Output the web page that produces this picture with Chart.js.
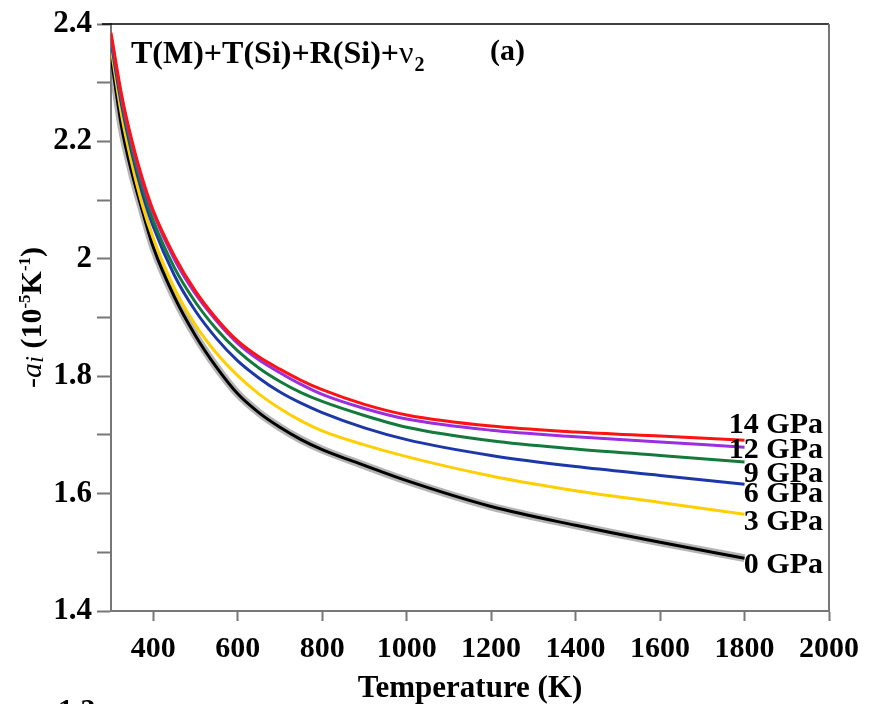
<!DOCTYPE html>
<html>
<head>
<meta charset="utf-8">
<script src="https://cdn.jsdelivr.net/npm/chart.js@4.4.1/dist/chart.umd.min.js"></script>
<style>
  html, body { margin: 0; padding: 0; background: #fff; }
  canvas { display: block; }
</style>
</head>
<body>
<canvas id="chart" width="874" height="704"></canvas>
<script>
/* ── Data ── */
const temps  = [300, 325, 350, 375, 400, 450, 500, 550, 600, 650, 700, 750, 800, 900, 1000, 1200, 1400, 1600, 1800];
const gpa14  = [2.385, 2.280, 2.200, 2.135, 2.082, 2.005, 1.945, 1.898, 1.860, 1.833, 1.812, 1.793, 1.777, 1.752, 1.734, 1.715, 1.705, 1.698, 1.691];
const gpa12  = [2.380, 2.275, 2.195, 2.130, 2.078, 1.999, 1.940, 1.894, 1.856, 1.828, 1.806, 1.786, 1.769, 1.745, 1.727, 1.708, 1.697, 1.688, 1.679];
const gpa9   = [2.375, 2.270, 2.185, 2.120, 2.065, 1.985, 1.926, 1.880, 1.843, 1.814, 1.791, 1.772, 1.757, 1.733, 1.713, 1.690, 1.676, 1.665, 1.654];
const gpa6   = [2.370, 2.262, 2.178, 2.110, 2.055, 1.972, 1.911, 1.864, 1.826, 1.797, 1.773, 1.754, 1.738, 1.712, 1.692, 1.665, 1.646, 1.631, 1.616];
const gpa3   = [2.360, 2.245, 2.160, 2.090, 2.035, 1.950, 1.887, 1.839, 1.801, 1.770, 1.745, 1.724, 1.707, 1.683, 1.663, 1.630, 1.605, 1.585, 1.565];
const gpa0   = [2.345, 2.225, 2.145, 2.080, 2.020, 1.935, 1.869, 1.815, 1.770, 1.738, 1.713, 1.692, 1.675, 1.648, 1.622, 1.578, 1.546, 1.517, 1.490];

const xTicks = [400, 600, 800, 1000, 1200, 1400, 1600, 1800, 2000];
const seriesNames  = ["14 GPa", "12 GPa", "9 GPa", "6 GPa", "3 GPa", "0 GPa"];
const seriesValues = [gpa14, gpa12, gpa9, gpa6, gpa3, gpa0];
const seriesColors = ["#ff1212", "#9a2ee0", "#137a3c", "#1c38a8", "#ffcf00", "#000000"];

const SERIF = '"Liberation Serif", "Times New Roman", serif';

function pts(vals) { return temps.map((t, i) => ({ x: t, y: vals[i] })); }

const datasets = seriesValues.map((vals, i) => ({
  label: seriesNames[i],
  data: pts(vals),
  borderColor: seriesColors[i],
  borderWidth: 3,
  pointRadius: 0,
  cubicInterpolationMode: "monotone",
  fill: false
}));
// grey halo under the 0 GPa curve (last dataset = drawn at the bottom)
datasets.push({
  label: "shadow",
  data: pts(gpa0),
  borderColor: "rgba(130,130,130,0.6)",
  borderWidth: 8,
  pointRadius: 0,
  cubicInterpolationMode: "monotone",
  fill: false
});

/* ── Text overlay: titles, labels, frame ── */
const textPlugin = {
  id: "texts",
  afterDatasetsDraw(chart) {
    const ctx = chart.ctx;
    const area = chart.chartArea;
    ctx.save();
    ctx.fillStyle = "#000";

    // frame: top black line, right grey line
    ctx.strokeStyle = "#000";
    ctx.lineWidth = 1.5;
    ctx.beginPath();
    ctx.moveTo(102, area.top);
    ctx.lineTo(area.right, area.top);
    ctx.stroke();
    ctx.strokeStyle = "#777";
    ctx.lineWidth = 2;
    ctx.beginPath();
    ctx.moveTo(area.right, area.top);
    ctx.lineTo(area.right, area.bottom);
    ctx.stroke();

    // series labels at the right
    const labelY = [433, 458, 482, 502, 530, 573];
    ctx.font = "bold 30px " + SERIF;
    ctx.textAlign = "right";
    ctx.textBaseline = "alphabetic";
    seriesNames.forEach((s, i) => ctx.fillText(s, 823, labelY[i]));

    // main title with nu_2
    ctx.textAlign = "left";
    ctx.font = "bold 32px " + SERIF;
    let x = 131;
    const base = 63;
    const t1 = "T(M)+T(Si)+R(Si)+";
    ctx.fillText(t1, x, base);
    x += ctx.measureText(t1).width;
    ctx.font = "32px " + SERIF;
    ctx.fillText("\u03bd", x, base);
    x += ctx.measureText("\u03bd").width;
    ctx.font = "bold 20px " + SERIF;
    ctx.fillText("2", x + 1, base + 8);

    ctx.font = "bold 30px " + SERIF;
    ctx.fillText("(a)", 490, 60);

    // x axis title
    ctx.textAlign = "center";
    ctx.font = "bold 31px " + SERIF;
    ctx.fillText("Temperature (K)", (area.left + area.right) / 2, 697);

    // stray label cut by the bottom edge
    ctx.textAlign = "left";
    ctx.font = "bold 30px " + SERIF;
    ctx.fillText("1.3", 58, 719);

    // y axis title (rotated, mixed styles)
    const parts = [
      { t: "-",    f: "30px " + SERIF, dy: 0 },
      { t: "a",    f: "italic 30px " + SERIF, dy: 0 },
      { t: "i",    f: "italic 25px " + SERIF, dy: 2 },
      { t: " (10", f: "bold 30px " + SERIF, dy: 0 },
      { t: "-5",   f: "bold 17px " + SERIF, dy: -11 },
      { t: "K",    f: "bold 30px " + SERIF, dy: 0 },
      { t: "-1",   f: "bold 17px " + SERIF, dy: -11 },
      { t: ")",    f: "bold 30px " + SERIF, dy: 0 }
    ];
    let total = 0;
    parts.forEach(p => { ctx.font = p.f; p.w = ctx.measureText(p.t).width; total += p.w; });
    ctx.translate(31, (area.top + area.bottom) / 2);
    ctx.rotate(-Math.PI / 2);
    let px = -total / 2;
    parts.forEach(p => {
      ctx.font = p.f;
      ctx.fillText(p.t, px, 10 + p.dy);
      px += p.w;
    });
    ctx.restore();
  }
};

new Chart(document.getElementById("chart"), {
  type: "line",
  data: { datasets },
  options: {
    responsive: false,
    animation: false,
    events: [],
    layout: { padding: { top: 24, right: 45, left: 0, bottom: 0 } },
    plugins: { legend: { display: false }, tooltip: { enabled: false } },
    scales: {
      x: {
        type: "linear",
        min: 300,
        max: 2000,
        afterBuildTicks: s => { s.ticks = xTicks.map(v => ({ value: v })); },
        afterFit: s => { s.height = 93; },
        grid: { drawOnChartArea: false, drawTicks: true, tickLength: 10, tickColor: "#777", tickWidth: 2 },
        border: { display: true, color: "#777", width: 2 },
        ticks: {
          color: "#000",
          padding: 10,
          maxRotation: 0,
          font: { family: SERIF, size: 30, weight: "bold" },
          callback: v => String(v)
        }
      },
      y: {
        min: 1.4,
        max: 2.4,
        afterFit: s => { s.width = 111; },
        grid: { drawOnChartArea: false, drawTicks: true, tickLength: 14, tickColor: "#777", tickWidth: 2 },
        border: { display: true, color: "#777", width: 2 },
        ticks: {
          stepSize: 0.1,
          color: "#000",
          padding: 5,
          font: { family: SERIF, size: 31, weight: "bold" },
          callback: v => (Math.round(v * 10) % 2 === 0 ? String(+v.toFixed(1)) : "")
        }
      }
    }
  },
  plugins: [textPlugin]
});
</script>
</body>
</html>
